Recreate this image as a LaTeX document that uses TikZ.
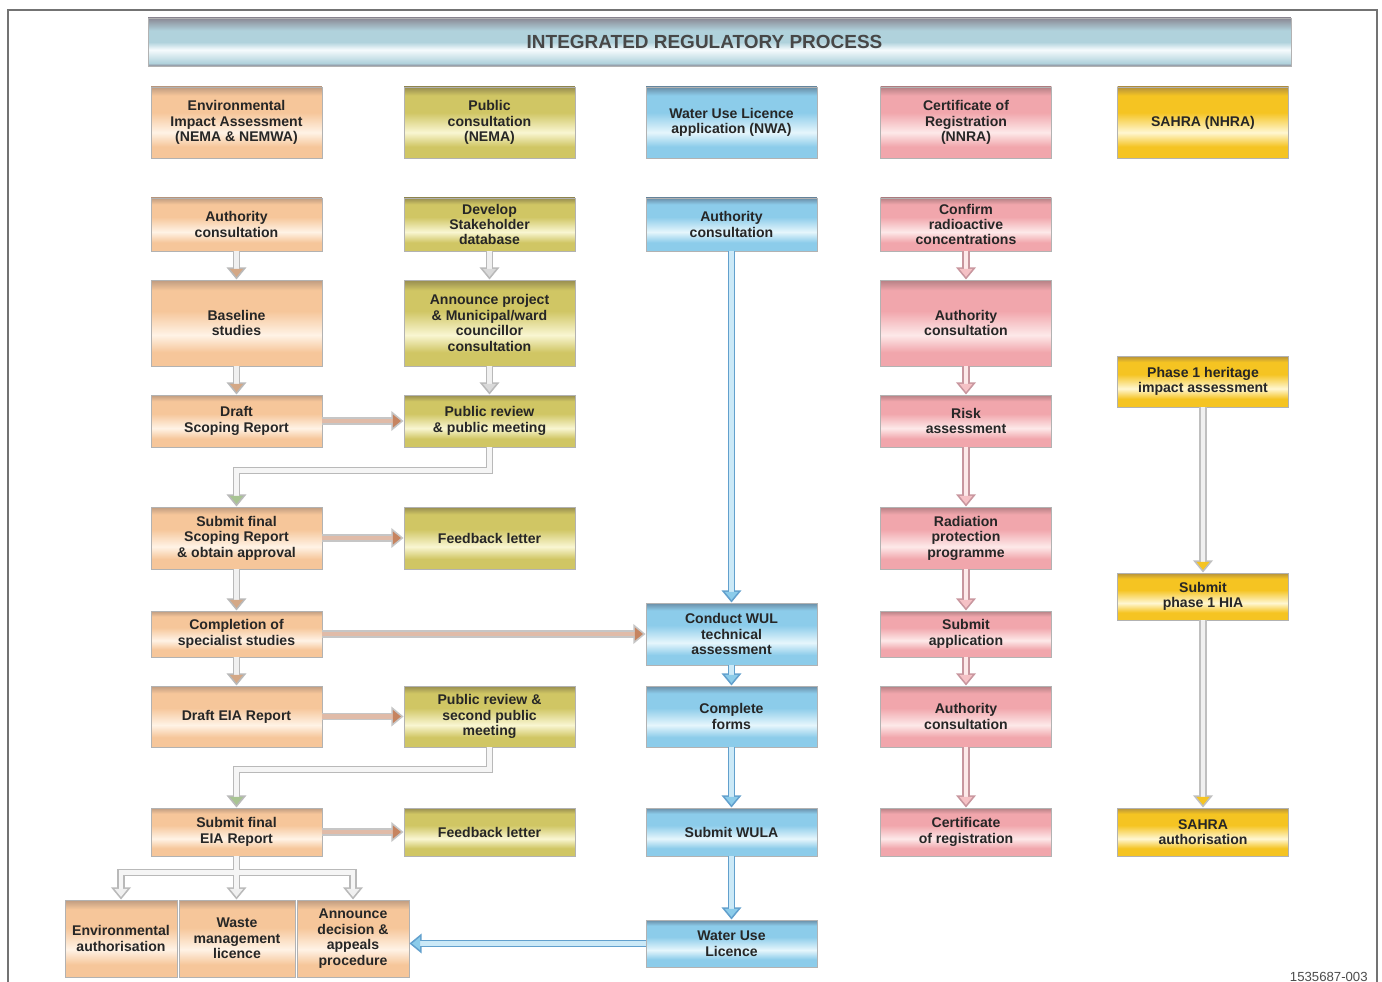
\documentclass[tikz,border=0pt]{standalone}
\usepackage{fontspec}
\setmainfont{Liberation Sans}
\usepackage{xcolor}
\usetikzlibrary{arrows.meta}

% box colours: C main, L light band, D top edge
\definecolor{eiaC}{RGB}{246,198,154}
\definecolor{eiaL}{RGB}{255,243,230}
\definecolor{eiaD}{RGB}{190,155,128}
\definecolor{pubC}{RGB}{208,198,100}
\definecolor{pubL}{RGB}{249,246,210}
\definecolor{pubD}{RGB}{150,140,80}
\definecolor{wulC}{RGB}{140,204,234}
\definecolor{wulL}{RGB}{230,246,252}
\definecolor{wulD}{RGB}{105,140,165}
\definecolor{nnrC}{RGB}{241,166,172}
\definecolor{nnrL}{RGB}{253,233,233}
\definecolor{nnrD}{RGB}{180,128,132}
\definecolor{sahC}{RGB}{245,196,34}
\definecolor{sahL}{RGB}{255,247,210}
\definecolor{sahD}{RGB}{180,145,60}
\definecolor{ttlC}{RGB}{176,210,220}
\definecolor{ttlL}{RGB}{246,251,253}
\definecolor{ttlD}{RGB}{138,136,148}
% arrow colours
\definecolor{arrTan}{RGB}{212,168,134}
\definecolor{arrBrown}{RGB}{198,132,96}
\definecolor{arrGreen}{RGB}{168,196,146}
\definecolor{arrBlue}{RGB}{98,160,205}
\definecolor{arrPink}{RGB}{200,150,158}

\newcommand{\mkshade}[1]{%
  \pgfdeclareverticalshading{#1shade}{100bp}{color(0bp)=(#1C); color(25bp)=(#1C); color(33bp)=(#1C); color(43bp)=(#1L); color(57bp)=(#1C); color(69bp)=(#1C); color(75bp)=(#1D); color(100bp)=(#1D)}}
\mkshade{eia}
\mkshade{pub}
\mkshade{wul}
\mkshade{nnr}
\mkshade{sah}
\pgfdeclareverticalshading{ttlshade}{100bp}{color(0bp)=(ttlD); color(25bp)=(ttlD); color(28bp)=(ttlC); color(42bp)=(ttlL); color(50bp)=(ttlC); color(62bp)=(ttlC); color(75bp)=(ttlD); color(100bp)=(ttlD)}

\newcommand{\boxfont}{\fontsize{8}{8.8}\selectfont\bfseries}

\tikzset{
  box/.style={rectangle, draw=black!30, line width=0.5pt, shade, align=center,
    minimum width=3.42cm, inner sep=1pt, font=\boxfont, text=black!85},
  eia/.style={box, shading=eiashade},
  pub/.style={box, shading=pubshade},
  wul/.style={box, shading=wulshade},
  nnr/.style={box, shading=nnrshade},
  sah/.style={box, shading=sahshade},
  title/.style={rectangle, draw=black!30, shade, shading=ttlshade, minimum width=22.86cm,
    minimum height=0.96cm, font=\fontsize{10.8}{13}\selectfont\bfseries, text=black!72},
  frame/.style={draw=black!55, line width=1pt},
  pipeout/.style={line width=4.4pt, draw=#1, -{Triangle[width=11pt,length=7pt,color=#1]}},
  pipein/.style 2 args={line width=2.6pt, draw=#1, shorten >=1.5pt,
    -{Triangle[width=7.2pt,length=4.6pt,color=#2]}},
}

% outline colour, shaft colour, head colour, path
\newcommand{\pipe}[4]{%
  \draw[pipeout=#1] #4;
  \draw[pipein={#2}{#3}] #4;}

\begin{document}
\begin{tikzpicture}[x=0.02cm, y=-0.02cm]
  % Canvas and frame
  \useasboundingbox (0,0) rectangle (1382,982);
  \fill[white] (0,0) rectangle (1382,982);
  \draw[frame] (8,982) -- (8,10) -- (1377,10) -- (1377,982);

  % Title bar
  \node[title] (ttl) at (719.5,42) {\hspace*{-0.6cm}INTEGRATED REGULATORY PROCESS};

  % Column heads
  \node[eia, minimum height=1.42cm] (head1) at (236.5,122.5) {Environmental\\Impact Assessment\\(NEMA \& NEMWA)};
  \node[pub, minimum height=1.42cm] (head2) at (489.5,122.5) {Public\\consultation\\(NEMA)};
  \node[wul, minimum height=1.42cm] (head3) at (731.5,122.5) {Water Use Licence\\application (NWA)};
  \node[nnr, minimum height=1.42cm] (head4) at (966,122.5) {Certificate of\\Registration\\(NNRA)};
  \node[sah, minimum height=1.42cm] (head5) at (1203,122.5) {SAHRA (NHRA)};

  % EIA column
  \node[eia, minimum height=1.06cm] (eia1) at (236.5,224.5) {Authority\\consultation};
  \node[eia, minimum height=1.72cm] (eia2) at (236.5,323) {Baseline\\studies};
  \node[eia, minimum height=1.04cm] (eia3) at (236.5,421) {Draft\\Scoping Report};
  \node[eia, minimum height=1.24cm] (eia4) at (236.5,538) {Submit final\\Scoping Report\\\& obtain approval};
  \node[eia, minimum height=0.92cm] (eia5) at (236.5,634) {Completion of\\specialist studies};
  \node[eia, minimum height=1.22cm] (eia6) at (236.5,716.5) {Draft EIA Report};
  \node[eia, minimum height=0.96cm] (eia7) at (236.5,832) {Submit final\\EIA Report};
  \node[eia, minimum width=2.24cm, minimum height=1.54cm] (ea) at (121,938.5) {Environmental\\authorisation};
  \node[eia, minimum width=2.32cm, minimum height=1.54cm] (wml) at (237,938.5) {Waste\\management\\licence};
  \node[eia, minimum width=2.24cm, minimum height=1.54cm] (appeal) at (353,938.5) {Announce\\decision \&\\appeals\\procedure};

  % Public consultation column
  \node[pub, minimum height=1.06cm] (pub1) at (489.5,224.5) {Develop\\Stakeholder\\database};
  \node[pub, minimum height=1.72cm] (pub2) at (489.5,323) {Announce project\\\& Municipal/ward\\councillor\\consultation};
  \node[pub, minimum height=1.04cm] (pub3) at (489.5,421) {Public review\\\& public meeting};
  \node[pub, minimum height=1.24cm] (pub4) at (489.5,538) {Feedback letter};
  \node[pub, minimum height=1.22cm] (pub5) at (489.5,716.5) {Public review \&\\second public\\meeting};
  \node[pub, minimum height=0.96cm] (pub6) at (489.5,832) {Feedback letter};

  % Water use licence column
  \node[wul, minimum height=1.06cm] (wul1) at (731.5,224.5) {Authority\\consultation};
  \node[wul, minimum height=1.24cm] (wul2) at (731.5,634) {Conduct WUL\\technical\\assessment};
  \node[wul, minimum height=1.22cm] (wul3) at (731.5,716.5) {Complete\\forms};
  \node[wul, minimum height=0.96cm] (wul4) at (731.5,832) {Submit WULA};
  \node[wul, minimum height=0.94cm] (wul5) at (731.5,943.5) {Water Use\\Licence};

  % NNRA column
  \node[nnr, minimum height=1.06cm] (nnr1) at (966,224.5) {Confirm\\radioactive\\concentrations};
  \node[nnr, minimum height=1.72cm] (nnr2) at (966,323) {Authority\\consultation};
  \node[nnr, minimum height=1.04cm] (nnr3) at (966,421) {Risk\\assessment};
  \node[nnr, minimum height=1.24cm] (nnr4) at (966,538) {Radiation\\protection\\programme};
  \node[nnr, minimum height=0.92cm] (nnr5) at (966,634) {Submit\\application};
  \node[nnr, minimum height=1.22cm] (nnr6) at (966,716.5) {Authority\\consultation};
  \node[nnr, minimum height=0.96cm] (nnr7) at (966,832) {Certificate\\of registration};

  % SAHRA column
  \node[sah, minimum height=1.02cm] (sah1) at (1203,381.5) {Phase 1 heritage\\impact assessment};
  \node[sah, minimum height=0.94cm] (sah2) at (1203,596.5) {Submit\\phase 1 HIA};
  \node[sah, minimum height=0.96cm] (sah3) at (1203,832) {SAHRA\\authorisation};

  % EIA arrows
  \pipe{gray!55}{gray!12}{arrTan}{(eia1) -- (eia2)}
  \pipe{gray!55}{gray!12}{arrTan}{(eia2) -- (eia3)}
  \pipe{gray!55}{gray!12}{arrTan}{(eia4) -- (eia5)}
  \pipe{gray!55}{gray!12}{arrTan}{(eia5) -- (eia6)}
  \pipe{gray!55}{gray!8}{arrGreen}{(pub3.south) -- ++(0,23) -| (eia4.north)}
  \pipe{gray!55}{gray!8}{arrGreen}{(pub5.south) -- ++(0,22) -| (eia7.north)}

  % across to the next column
  \pipe{gray!45}{arrBrown!55}{arrBrown}{(eia3) -- (pub3)}
  \pipe{gray!45}{arrBrown!55}{arrBrown}{(eia4) -- (pub4)}
  \pipe{gray!45}{arrBrown!55}{arrBrown}{(eia5) -- (wul2)}
  \pipe{gray!45}{arrBrown!55}{arrBrown}{(eia6) -- (pub5)}
  \pipe{gray!45}{arrBrown!55}{arrBrown}{(eia7) -- (pub6)}

  % split below the final EIA report
  \draw[pipeout=gray!55] (eia7.south) -- ++(0,16) -| (ea.north);
  \draw[pipeout=gray!55] (eia7.south) -- ++(0,16) -| (appeal.north);
  \draw[pipeout=gray!55] (eia7.south) -- (eia7.south |- wml.north);
  \draw[pipein={gray!8}{gray!12}] (eia7.south) -- ++(0,16) -| (ea.north);
  \draw[pipein={gray!8}{gray!12}] (eia7.south) -- ++(0,16) -| (appeal.north);
  \draw[pipein={gray!8}{gray!12}] (eia7.south) -- (eia7.south |- wml.north);

  % Public consultation arrows
  \pipe{gray!55}{gray!12}{gray!30}{(pub1) -- (pub2)}
  \pipe{gray!55}{gray!12}{gray!30}{(pub2) -- (pub3)}

  % Water use licence arrows
  \pipe{arrBlue}{wulL!70!wulC}{wulC}{(wul1) -- (wul2)}
  \pipe{arrBlue}{wulL!70!wulC}{wulC}{(wul2) -- (wul3)}
  \pipe{arrBlue}{wulL!70!wulC}{wulC}{(wul3) -- (wul4)}
  \pipe{arrBlue}{wulL!70!wulC}{wulC}{(wul4) -- (wul5)}
  \pipe{arrBlue}{wulL!70!wulC}{wulC}{(wul5.west) -- (wul5.west -| appeal.east)}

  % NNRA arrows
  \pipe{arrPink}{nnrL}{nnrC!70}{(nnr1) -- (nnr2)}
  \pipe{arrPink}{nnrL}{nnrC!70}{(nnr2) -- (nnr3)}
  \pipe{arrPink}{nnrL}{nnrC!70}{(nnr3) -- (nnr4)}
  \pipe{arrPink}{nnrL}{nnrC!70}{(nnr4) -- (nnr5)}
  \pipe{arrPink}{nnrL}{nnrC!70}{(nnr5) -- (nnr6)}
  \pipe{arrPink}{nnrL}{nnrC!70}{(nnr6) -- (nnr7)}

  % SAHRA arrows
  \pipe{gray!50}{gray!12}{sahC}{(sah1) -- (sah2)}
  \pipe{gray!50}{gray!12}{sahC}{(sah2) -- (sah3)}

  % drawing number
  \node[anchor=south east, inner sep=0pt, font=\fontsize{7.5}{8}\selectfont, text=black!70] (docno) at (1368,982) {1535687-003};
\end{tikzpicture}
\end{document}
